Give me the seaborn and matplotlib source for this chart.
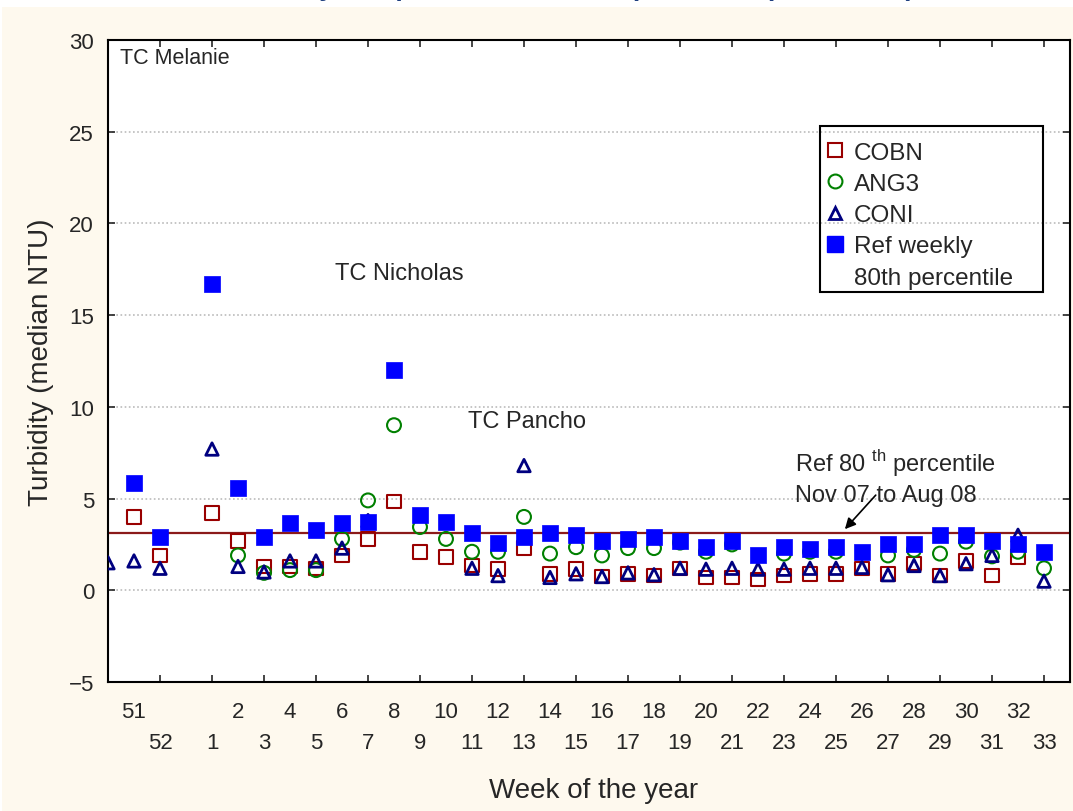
"""Turbidity médiane hebdomadaire par site, comparée au 80e percentile de référence."""
import numpy as np
import pandas as pd
import matplotlib
matplotlib.use('Agg')
import matplotlib.pyplot as plt
from matplotlib.patches import Rectangle
from matplotlib.lines import Line2D
import seaborn as sns

nan = np.nan

# semaines (un emplacement vide entre 52 et 1)
week_labels = ['50', '51', '52', ''] + [str(w) for w in range(1, 34)]

cobn = [nan, 4.0, 1.9, nan, 4.2, 2.7, 1.3, 1.3, 1.2, 1.9, 2.8, 4.85, 2.1, 1.8,
        1.35, 1.15, 2.3, 0.9, 1.15, 0.75, 0.9, 0.8, 1.2, 0.7, 0.7, 0.6, 0.8,
        0.9, 0.9, 1.2, 0.9, 1.45, 0.8, 1.6, 0.8, 1.8, nan]
ang3 = [nan, nan, nan, nan, nan, 1.9, 0.95, 1.1, 1.1, 2.8, 4.9, 9.0, 3.45, 2.8,
        2.1, 2.1, 4.0, 2.0, 2.35, 1.9, 2.3, 2.3, 2.6, 2.1, 2.5, nan, 2.0,
        2.1, 2.1, nan, 1.9, 2.2, 2.0, 2.65, 1.85, 2.1, 1.2]
coni = [1.5, 1.6, 1.2, nan, 7.7, 1.3, 1.0, 1.6, 1.6, 2.3, 3.8, nan, nan, nan,
        1.2, 0.8, 6.8, 0.7, 0.9, 0.75, 0.95, 0.85, 1.2, 1.15, 1.2, 1.15, 1.15,
        1.2, 1.2, 1.25, 0.85, 1.35, 0.8, 1.45, 1.9, 3.0, 0.5]
ref_weekly = [nan, 5.85, 2.9, nan, 16.7, 5.6, 2.9, 3.65, 3.3, 3.65, 3.75, 12.0, 4.1, 3.75,
              3.15, 2.6, 2.9, 3.15, 3.0, 2.7, 2.8, 2.9, 2.7, 2.35, 2.7, 1.9, 2.35,
              2.25, 2.35, 2.1, 2.5, 2.55, 3.0, 3.0, 2.7, 2.55, 2.1]
ref_p80 = 3.15

cream = '#FEF9EE'
c_cobn, c_ang3, c_coni, c_ref = '#990000', '#008000', '#000080', '#0000FF'

sns.set_style('ticks')
plt.rcParams['font.family'] = ['Liberation Sans', 'DejaVu Sans']
plt.rcParams['mathtext.fontset'] = 'custom'
plt.rcParams['mathtext.rm'] = 'Liberation Sans'

pos = np.arange(len(week_labels))
df = pd.DataFrame({'pos': pos, 'COBN': cobn, 'ANG3': ang3, 'CONI': coni, 'Ref': ref_weekly})

fig = plt.figure(figsize=(10.73, 8.12), dpi=100, facecolor='white')
fig.patches.append(Rectangle((2 / 1073, 0), 1, 1 - 8 / 812, transform=fig.transFigure,
                             facecolor=cream, edgecolor='none', zorder=-10))
# titre coupé en haut de l'image (seuls les jambages dépassent, comme l'original)
fig.text(0.53, 1 + 3.5 / 812, 'Turbidity compared to reference percentile (2007, 2008)',
         ha='center', va='baseline', color='#1F3F7F', fontsize=19, fontweight='bold')

ax = fig.add_axes([108 / 1073, 129 / 812, 962 / 1073, 642 / 812])
ax.set_facecolor('white')

sns.scatterplot(data=df, x='pos', y='COBN', marker='s', s=95, color=c_cobn, facecolor='none',
                edgecolor=c_cobn, linewidth=1.5, ax=ax, zorder=3)
sns.scatterplot(data=df, x='pos', y='ANG3', marker='o', s=100, color=c_ang3, facecolor='none',
                edgecolor=c_ang3, linewidth=1.5, ax=ax, zorder=3)
sns.scatterplot(data=df, x='pos', y='CONI', marker='^', s=80, color=c_coni, facecolor='none',
                edgecolor=c_coni, linewidth=2.0, ax=ax, zorder=3)
sns.scatterplot(data=df, x='pos', y='Ref', marker='s', s=120, color=c_ref,
                edgecolor=c_ref, linewidth=0.5, ax=ax, zorder=4)

ax.axhline(ref_p80, color='#8B1A1A', lw=1.6, zorder=2)

ax.set_xlim(0, len(week_labels))
ax.set_ylim(-5, 30)
ax.set_yticks(range(-5, 31, 5))
ax.yaxis.grid(True, linestyle=(0, (1, 1.5)), color='#BBBBBB', lw=1.2)
ax.set_axisbelow(True)

# deux rangées d'étiquettes: impaires en haut, paires en bas
odd = pos[1::2]
even = pos[2::2]
ax.set_xticks(odd, [week_labels[i] for i in odd], minor=True)
ax.set_xticks(even, [week_labels[i] for i in even])
ax.tick_params(axis='x', which='minor', length=0, pad=14, labelsize=16)
ax.tick_params(axis='x', which='major', direction='in', length=5, width=1.2, pad=36,
               labelsize=16, top=True)
ax.tick_params(axis='y', direction='in', length=5, width=1.2, pad=10, labelsize=16,
               left=True, right=True)
for sp in ax.spines.values():
    sp.set_visible(True)
    sp.set_color('black')
    sp.set_linewidth(1.5)

ax.set_xlabel('Week of the year', fontsize=20)
ax.set_ylabel('Turbidity (median NTU)', fontsize=20)
ax.xaxis.set_label_coords(0.505, -0.148)
ax.yaxis.set_label_coords(-0.056, 0.5)

# annotations
ax.text(0.46, 29.05, 'TC Melanie', fontsize=15.5, va='center', ha='left')
ax.text(11.2, 17.3, 'TC Nicholas', fontsize=17, va='center', ha='center')
ax.text(16.1, 9.23, 'TC Pancho', fontsize=17, va='center', ha='center')
ax.text(26.42, 6.94, r'Ref 80 $^{\mathrm{th}}$ percentile', fontsize=17, va='center', ha='left')
ax.text(26.42, 5.19, 'Nov 07 to Aug 08', fontsize=17, va='center', ha='left')
ax.annotate('', xy=(28.27, 3.22), xytext=(29.6, 5.3),
            arrowprops=dict(arrowstyle='-|>', color='black', lw=1.2, mutation_scale=16))

# légende
handles = [
    Line2D([], [], ls='none', marker='s', ms=9.7, mfc='none', mec=c_cobn, mew=1.5),
    Line2D([], [], ls='none', marker='o', ms=10, mfc='none', mec=c_ang3, mew=1.5),
    Line2D([], [], ls='none', marker='^', ms=9, mfc='none', mec=c_coni, mew=2.0),
    Line2D([], [], ls='none', marker='s', ms=11, mfc=c_ref, mec=c_ref),
    Line2D([], [], ls='none', marker=None),
]
labels = ['COBN', 'ANG3', 'CONI', 'Ref weekly', '80th percentile']
ax.legend(handles, labels, loc='upper left', bbox_to_anchor=(0.7433, 0.8419), frameon=False,
          fontsize=17.5, handlelength=1.0, handletextpad=0.27, borderpad=0, borderaxespad=0,
          labelspacing=0.38)
ax.add_patch(Rectangle((0.7401, 0.6075), 0.2318, 0.2586, transform=ax.transAxes,
                       facecolor='none', edgecolor='black', lw=1.5, zorder=6))

fig.savefig('out.png', dpi=100, facecolor=fig.get_facecolor())
